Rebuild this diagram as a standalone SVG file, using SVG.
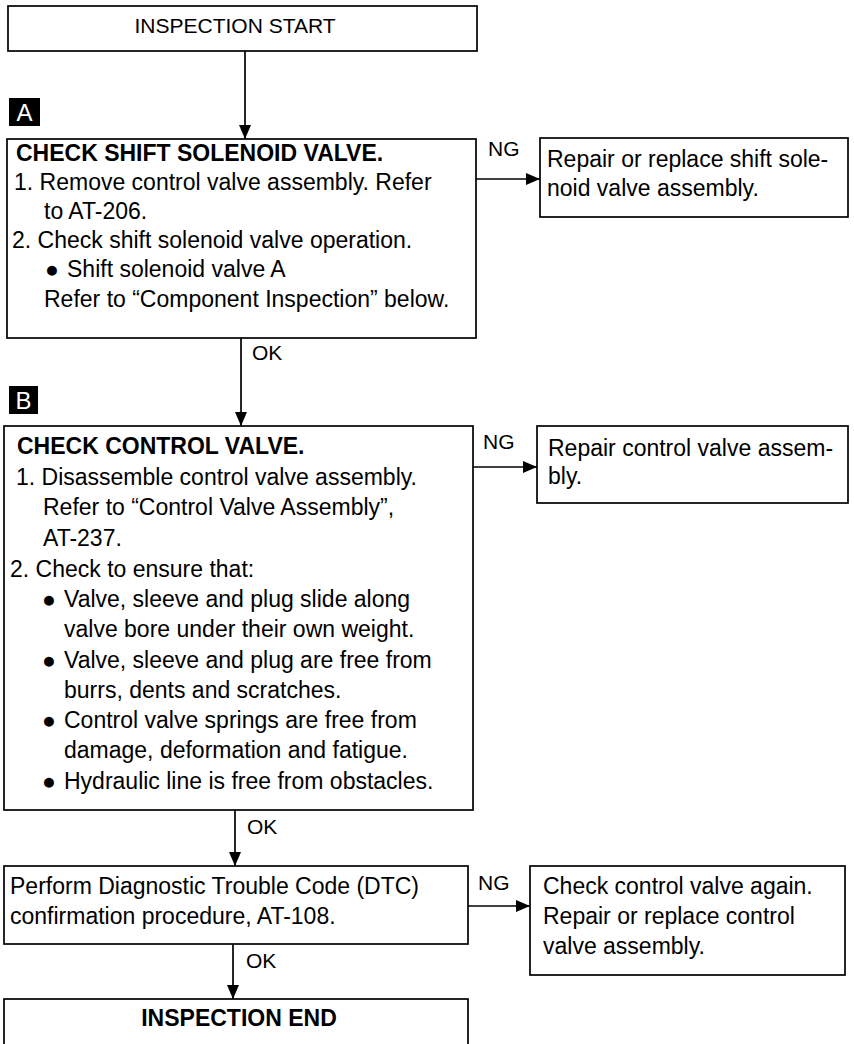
<svg xmlns="http://www.w3.org/2000/svg" width="854" height="1044" viewBox="0 0 854 1044">
<style>
.box{fill:#fff;stroke:#000;stroke-width:1.7}
.t{font-family:"Liberation Sans",Arial,sans-serif;font-size:23px;fill:#000}
.b{font-weight:bold;font-size:23px}
.h{font-size:21px}
.lbl{font-family:"Liberation Sans",Arial,sans-serif;font-size:21px;fill:#000}
.badge{fill:#000}
.bt{font-family:"Liberation Sans",Arial,sans-serif;font-size:24px;fill:#fff}
.c{stroke:#000;stroke-width:1.7;fill:none;marker-end:url(#ah)}
</style>
<defs>
<marker id="ah" markerUnits="userSpaceOnUse" markerWidth="14" markerHeight="12" refX="14" refY="6" orient="auto">
<path d="M0,0 L14,6 L0,12 Z" fill="#000"/>
</marker>
</defs>
<rect width="854" height="1044" fill="#fff"/>
<g id="start">
<rect class="box" x="8" y="6" width="469" height="45"/>
<text class="t h" x="235" y="33" text-anchor="middle">INSPECTION START</text>
</g>
<g id="badgeA">
<rect class="badge" x="9" y="98" width="31" height="28"/>
<text class="bt" x="24.5" y="121" text-anchor="middle">A</text>
</g>
<g id="checkA">
<rect class="box" x="7" y="139" width="469" height="199"/>
<text class="t b" x="16" y="161">CHECK SHIFT SOLENOID VALVE.</text>
<text class="t" x="14" y="190">1. Remove control valve assembly. Refer</text>
<text class="t" x="44" y="219">to AT-206.</text>
<text class="t" x="12" y="248">2. Check shift solenoid valve operation.</text>
<text class="t" x="45" y="277">●</text>
<text class="t" x="67" y="277">Shift solenoid valve A</text>
<text class="t" x="44" y="307">Refer to “Component Inspection” below.</text>
</g>
<g id="repairA">
<rect class="box" x="540" y="138" width="308" height="79"/>
<text class="t" x="547" y="167">Repair or replace shift sole-</text>
<text class="t" x="547" y="196">noid valve assembly.</text>
</g>
<g id="badgeB">
<rect class="badge" x="9" y="386" width="29" height="28"/>
<text class="bt" x="23.5" y="409" text-anchor="middle">B</text>
</g>
<g id="checkB">
<rect class="box" x="4" y="426" width="469" height="384"/>
<text class="t b" x="17" y="454">CHECK CONTROL VALVE.</text>
<text class="t" x="16" y="485">1. Disassemble control valve assembly.</text>
<text class="t" x="43" y="515">Refer to “Control Valve Assembly”,</text>
<text class="t" x="43" y="546">AT-237.</text>
<text class="t" x="10" y="577">2. Check to ensure that:</text>
<text class="t" x="42" y="607">●</text>
<text class="t" x="64" y="607">Valve, sleeve and plug slide along</text>
<text class="t" x="64" y="637">valve bore under their own weight.</text>
<text class="t" x="42" y="668">●</text>
<text class="t" x="64" y="668">Valve, sleeve and plug are free from</text>
<text class="t" x="64" y="698">burrs, dents and scratches.</text>
<text class="t" x="42" y="728">●</text>
<text class="t" x="64" y="728">Control valve springs are free from</text>
<text class="t" x="64" y="758">damage, deformation and fatigue.</text>
<text class="t" x="42" y="789">●</text>
<text class="t" x="64" y="789">Hydraulic line is free from obstacles.</text>
</g>
<g id="repairB">
<rect class="box" x="537" y="426" width="311" height="77"/>
<text class="t" x="548" y="456">Repair control valve assem-</text>
<text class="t" x="548" y="484">bly.</text>
</g>
<g id="dtc">
<rect class="box" x="4" y="866" width="464" height="78"/>
<text class="t" x="10" y="894">Perform Diagnostic Trouble Code (DTC)</text>
<text class="t" x="10" y="924">confirmation procedure, AT-108.</text>
</g>
<g id="recheck">
<rect class="box" x="530" y="866" width="315" height="109"/>
<text class="t" x="543" y="894">Check control valve again.</text>
<text class="t" x="543" y="924">Repair or replace control</text>
<text class="t" x="543" y="954">valve assembly.</text>
</g>
<g id="end">
<rect class="box" x="4" y="999" width="464" height="60"/>
<text class="t b" x="239" y="1026" text-anchor="middle">INSPECTION END</text>
</g>
<g id="connectors">
<line class="c" x1="245" y1="51" x2="245" y2="139"/>
<line class="c" x1="476" y1="179" x2="540" y2="179"/>
<text class="lbl" x="488" y="156">NG</text>
<line class="c" x1="241" y1="338" x2="241" y2="426"/>
<text class="lbl" x="252" y="360">OK</text>
<line class="c" x1="473" y1="467" x2="537" y2="467"/>
<text class="lbl" x="483" y="449">NG</text>
<line class="c" x1="235" y1="810" x2="235" y2="866"/>
<text class="lbl" x="247" y="834">OK</text>
<line class="c" x1="468" y1="906" x2="530" y2="906"/>
<text class="lbl" x="478" y="890">NG</text>
<line class="c" x1="233" y1="944" x2="233" y2="999"/>
<text class="lbl" x="246" y="968">OK</text>
</g>
</svg>
